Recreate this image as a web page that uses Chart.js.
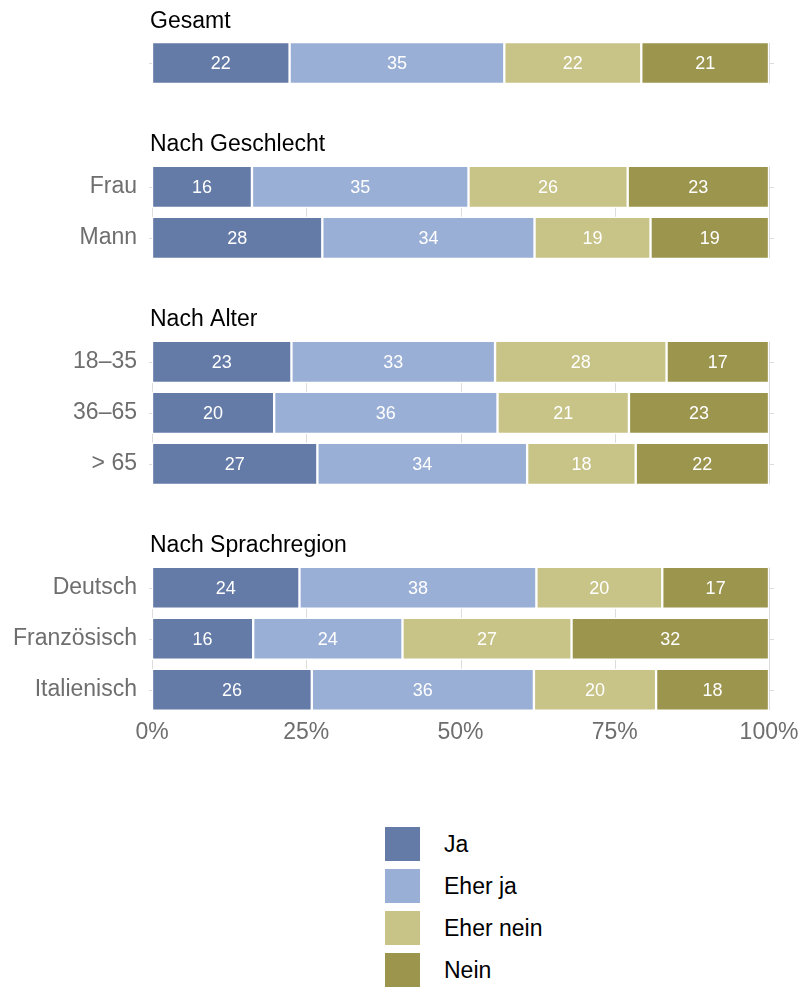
<!DOCTYPE html>
<html>
<head>
<meta charset="utf-8">
<script src="https://cdn.jsdelivr.net/npm/chart.js@4.4.1/dist/chart.umd.min.js"></script>
<style>
html, body { margin: 0; padding: 0; background: #ffffff; }
#wrap { position: relative; width: 803px; height: 987px; font-family: 'Liberation Sans', Arial, Helvetica, sans-serif; }
#c { position: absolute; left: 0; top: 0; }
#legend { position: absolute; left: 385px; top: 827px; }
.item { display: flex; align-items: center; height: 34px; margin-bottom: 8px; }
.sw { width: 35px; height: 34px; margin-right: 24px; }
.lab { font-size: 23px; color: #000000; line-height: 34px; }
</style>
</head>
<body>
<div id="wrap">
  <canvas id="c" width="803" height="760"></canvas>
  <div id="legend"></div>
</div>
<script>
// ---- Data ----
const groupTitles = ['Gesamt', 'Nach Geschlecht', 'Nach Alter', 'Nach Sprachregion'];
const groupSizes = [1, 2, 3, 3];
const categories = ['Gesamt', 'Frau', 'Mann', '18–35', '36–65', '> 65', 'Deutsch', 'Französisch', 'Italienisch'];
const rowLabels = ['', 'Frau', 'Mann', '18–35', '36–65', '> 65', 'Deutsch', 'Französisch', 'Italienisch'];
const seriesNames = ['Ja', 'Eher ja', 'Eher nein', 'Nein'];
const ja       = [22.3, 16.2, 27.6, 22.6, 19.8, 26.8, 23.9, 16.4, 25.9];
const eherJa   = [34.8, 35.1, 34.4, 33.0, 36.2, 34.0, 38.4, 24.2, 36.0];
const eherNein = [22.2, 25.8, 18.8, 27.8, 21.3, 17.6, 20.4, 27.4, 19.8];
const nein     = [20.7, 22.9, 19.2, 16.6, 22.7, 21.6, 17.3, 32.0, 18.3];
const xTickValues = [0, 25, 50, 75, 100];
const xTickLabels = ['0%', '25%', '50%', '75%', '100%'];

// ---- Layout helpers (positions in row units) ----
const PANEL_GAP = 2.43;
const ROW_PX = 51;       // pixel height of one row unit
const FIRST_ROW_PX = 63; // pixel centre of the first row
const rowPos = [];
const groups = [];
{
  let p = 0;
  groupSizes.forEach((n, gi) => {
    if (gi > 0) p += PANEL_GAP - 1;
    const first = p;
    for (let k = 0; k < n; k++) { rowPos.push(p); p += 1; }
    groups.push({ title: groupTitles[gi], first: first, last: p - 1 });
  });
}

const colors = ['#647BA8', '#9AAFD6', '#C8C387', '#9C954E'];
const seriesValues = [ja, eherJa, eherNein, nein];
const FONT = "'Liberation Sans', Arial, Helvetica, sans-serif";

const datasets = seriesNames.map((name, si) => ({
  label: name,
  data: seriesValues[si].map((v, i) => ({ x: v, y: rowPos[i] })),
  backgroundColor: colors[si],
  borderColor: '#ffffff',
  borderWidth: 1.5,
  borderSkipped: false,
  barThickness: 42
}));

const facetPlugin = {
  id: 'facetPlugin',
  beforeDatasetsDraw(chart) {
    const { ctx, chartArea, scales: { x, y } } = chart;
    ctx.save();
    ctx.strokeStyle = '#DCDCDC';
    ctx.lineWidth = 1;
    groups.forEach(g => {
      const top = y.getPixelForValue(g.first - 0.4);
      const bot = y.getPixelForValue(g.last + 0.4);
      xTickValues.forEach(v => {
        const px = Math.round(x.getPixelForValue(v)) + 0.5;
        ctx.beginPath(); ctx.moveTo(px, top); ctx.lineTo(px, bot); ctx.stroke();
      });
    });
    rowPos.forEach(p => {
      const py = Math.round(y.getPixelForValue(p)) + 0.5;
      ctx.beginPath(); ctx.moveTo(chartArea.left - 3, py); ctx.lineTo(chartArea.right + 5, py); ctx.stroke();
    });
    ctx.restore();
  },
  afterDatasetsDraw(chart) {
    const { ctx, chartArea, scales: { y } } = chart;
    ctx.save();
    ctx.fillStyle = '#ffffff';
    ctx.font = '18px ' + FONT;
    ctx.textAlign = 'center';
    ctx.textBaseline = 'middle';
    chart.data.datasets.forEach((ds, di) => {
      const meta = chart.getDatasetMeta(di);
      meta.data.forEach((el, i) => {
        const v = ds.data[i].x;
        const cx = (el.x + el.base) / 2;
        ctx.fillText(String(Math.round(v)), cx, el.y + 1);
      });
    });
    ctx.fillStyle = '#000000';
    ctx.font = '23px ' + FONT;
    ctx.textAlign = 'left';
    groups.forEach(g => {
      ctx.fillText(g.title, chartArea.left - 2, y.getPixelForValue(g.first - 0.82));
    });
    ctx.restore();
  }
};

const chart = new Chart(document.getElementById('c'), {
  type: 'bar',
  data: { labels: categories, datasets: datasets },
  options: {
    indexAxis: 'y',
    responsive: false,
    animation: false,
    layout: { padding: { left: 0, right: 34, top: 30, bottom: 0 } },
    plugins: { legend: { display: false }, tooltip: { enabled: false } },
    scales: {
      x: {
        type: 'linear',
        stacked: true,
        min: 0,
        max: 100,
        grid: { display: false, drawTicks: false },
        border: { display: false },
        afterBuildTicks: (scale) => { scale.ticks = xTickValues.map(v => ({ value: v })); },
        afterFit: (scale) => { scale.height = 48; scale.paddingLeft = 0; scale.paddingRight = 0; },
        ticks: {
          padding: 7,
          color: '#6E6E6E',
          font: { size: 23, family: FONT },
          maxRotation: 0,
          autoSkip: false,
          callback: (value, index) => xTickLabels[index]
        }
      },
      y: {
        type: 'linear',
        stacked: true,
        reverse: true,
        offset: false,
        grace: 0,
        min: -1,
        max: 13,
        grid: { display: false, drawTicks: false },
        border: { display: false },
        afterBuildTicks: (scale) => { scale.ticks = rowPos.map(v => ({ value: v })); },
        afterFit: (scale) => { scale.width = 152; },
        ticks: {
          padding: 15,
          color: '#6E6E6E',
          font: { size: 23, family: FONT },
          autoSkip: false,
          callback: (value, index) => rowLabels[index]
        }
      }
    }
  },
  plugins: [facetPlugin]
});

// Fit the y range so that one row unit is ROW_PX pixels and the first row sits at FIRST_ROW_PX.
{
  const ca = chart.chartArea;
  chart.options.scales.y.min = (ca.top - FIRST_ROW_PX) / ROW_PX;
  chart.options.scales.y.max = (ca.bottom - FIRST_ROW_PX) / ROW_PX;
  chart.update('none');
}

// ---- HTML legend built from the datasets ----
const legendEl = document.getElementById('legend');
chart.data.datasets.forEach(ds => {
  const item = document.createElement('div');
  item.className = 'item';
  const sw = document.createElement('div');
  sw.className = 'sw';
  sw.style.background = ds.backgroundColor;
  const lab = document.createElement('span');
  lab.className = 'lab';
  lab.textContent = ds.label;
  item.appendChild(sw);
  item.appendChild(lab);
  legendEl.appendChild(item);
});
</script>
</body>
</html>
